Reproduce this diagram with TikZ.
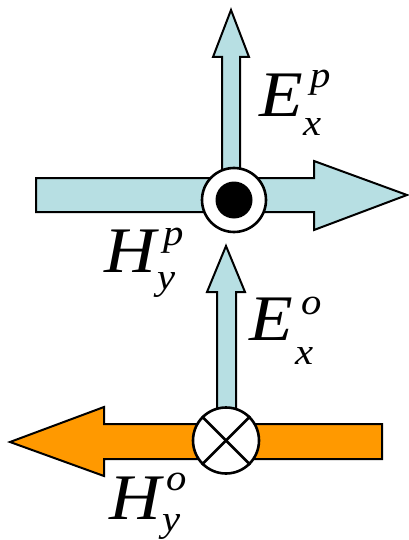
\documentclass[tikz,border=0pt]{standalone}
\usepackage{fontspec}
\setmainfont{Liberation Serif}
\definecolor{lblue}{RGB}{183,223,227}
\definecolor{orng}{RGB}{255,153,0}
\newcommand\widetxt[1]{\scalebox{1.1}[1]{#1}}
\tikzset{
  arrowshape/.style={draw=black, line width=2pt, line join=miter},
  ring/.style={circle, draw=black, fill=white, line width=2.6pt, inner sep=0pt},
  big/.style={inner sep=0pt, anchor=base west, font=\fontsize{65}{65}\selectfont\itshape},
  small/.style={inner sep=0pt, anchor=base west, font=\fontsize{37}{37}\selectfont\itshape},
}
\begin{document}
\begin{tikzpicture}[x=1pt,y=-1pt]
\useasboundingbox (0,0) rectangle (408,540);
% top horizontal arrow (H^p)
\draw[arrowshape, fill=lblue] (36,178) -- (314,178) -- (314,161) -- (407,195) -- (314,230) -- (314,212) -- (36,212) -- cycle;
% top vertical arrow (E^p)
\draw[arrowshape, fill=lblue] (222,185) -- (222,57) -- (213,57) -- (231,10) -- (249,57) -- (240,57) -- (240,185) -- cycle;
% out-of-page ring
\node[ring, minimum size=64pt] (dot) at (234,200) {};
\fill[black] (dot.center) circle (18.5pt);
% bottom vertical arrow (E^o)
\draw[arrowshape, fill=lblue] (217,420) -- (217,292) -- (207,292) -- (226,246) -- (245,292) -- (236,292) -- (236,420) -- cycle;
% bottom horizontal orange arrow (H^o)
\draw[arrowshape, fill=orng] (382,424) -- (104,424) -- (104,407) -- (10,442) -- (104,476) -- (104,459) -- (382,459) -- cycle;
% into-page ring
\node[ring, minimum size=66pt] (cross) at (226,440.5) {};
\draw[line width=2.6pt] (cross.45) -- (cross.225);
\draw[line width=2.6pt] (cross.135) -- (cross.315);
% labels
\node[big] (Ep) at (259,117) {\widetxt{E}};
\node[small] (Eps) at (310,88) {\widetxt{p}};
\node[small] (Epb) at (303,136) {\widetxt{x}};
\node[big] (Hp) at (104,272) {\widetxt{H}};
\node[small] (Hps) at (163,245) {\widetxt{p}};
\node[small] (Hpb) at (157,289) {\widetxt{y}};
\node[big] (Eo) at (249,340) {\widetxt{E}};
\node[small] (Eos) at (301,314) {\widetxt{o}};
\node[small] (Eob) at (295,364) {\widetxt{x}};
\node[big] (Ho) at (109,519) {\widetxt{H}};
\node[small] (Hos) at (166,490) {\widetxt{o}};
\node[small] (Hob) at (162,531) {\widetxt{y}};
\end{tikzpicture}
\end{document}
